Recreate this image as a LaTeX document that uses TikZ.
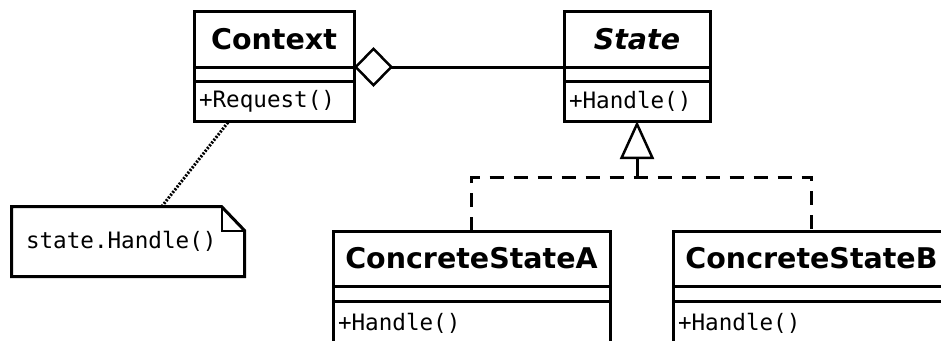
\documentclass[tikz,border=0pt]{standalone}
\usepackage{fontspec}
\setmainfont{DejaVu Sans}
\setmonofont{DejaVu Sans Mono}
\usepackage{tikz}
\usetikzlibrary{arrows.meta,positioning}

\newcommand{\namefont}{\fontsize{28.5}{34}\selectfont\bfseries}
\newcommand{\opfont}{\fontsize{22.6}{27}\selectfont\ttfamily}

\begin{document}
\begin{tikzpicture}[x=1pt,y=-1pt,line width=3pt,node distance=0pt]
\tikzstyle{clsname}=[draw,inner sep=0pt,outer sep=0pt,minimum height=56pt,font=\namefont]
\tikzstyle{clsattr}=[draw,inner sep=0pt,outer sep=0pt,minimum height=14pt]
\tikzstyle{clsop}=[draw,inner xsep=5pt,inner ysep=0pt,outer sep=0pt,minimum height=40pt,align=left,font=\opfont]
\tikzstyle{realize}=[dash pattern=on 14pt off 10pt]
\useasboundingbox (0,0) rectangle (941,340);
\clip (0,0) rectangle (941,340);

% classes
\node[clsname,minimum width=160pt] (Context) at (274,39) {Context};
\node[clsattr,minimum width=160pt] (ContextA) [below=of Context] {};
\node[clsop,text width=150pt]      (ContextO) [below=of ContextA] {+Request()};

\node[clsname,minimum width=146pt] (State) [right=210pt of Context] {\itshape State};
\node[clsattr,minimum width=146pt] (StateA) [below=of State] {};
\node[clsop,text width=136pt]      (StateO) [below=of StateA] {+Handle()};

\node[clsname,minimum width=277pt,minimum height=55pt] (CSA) at (471.5,258.5) {ConcreteStateA};
\node[clsattr,minimum width=277pt,minimum height=15pt] (CSAA) [below=of CSA] {};
\node[clsop,text width=267pt,minimum height=44pt]     (CSAO) [below=of CSAA] {+Handle()};

\node[clsname,minimum width=277pt,minimum height=55pt] (CSB) [right=63pt of CSA] {ConcreteStateB};
\node[clsattr,minimum width=277pt,minimum height=15pt] (CSBA) [below=of CSB] {};
\node[clsop,text width=267pt,minimum height=44pt]     (CSBO) [below=of CSBA] {+Handle()};

% note
\node[inner xsep=13pt,inner ysep=0pt,minimum height=67pt,text width=204pt,align=left,font=\opfont] (note) at (128,241.5) {state.Handle()};
\draw (note.north west) -- ([xshift=-23pt]note.north east) -- ([yshift=-24pt]note.north east)
  -- (note.south east) -- (note.south west) -- cycle;
\draw[line width=2pt] ([xshift=-23pt]note.north east) |- ([yshift=-24pt]note.north east);

% relations
\draw[-{Diamond[open,length=39pt,width=40pt,line width=2.5pt]}] (State.south west) -- (Context.south east);
\coordinate (fork) at (637,177);
\draw[realize] (CSA.north) |- (fork) -| (CSB.north);
\draw[-{Triangle[open,length=38pt,width=34pt,line width=2.5pt]}] (fork) -- (StateO.south);
\draw[line width=3pt,dash pattern=on 2pt off 1.5pt] (note.46) -- (ContextO.204);
\end{tikzpicture}
\end{document}
